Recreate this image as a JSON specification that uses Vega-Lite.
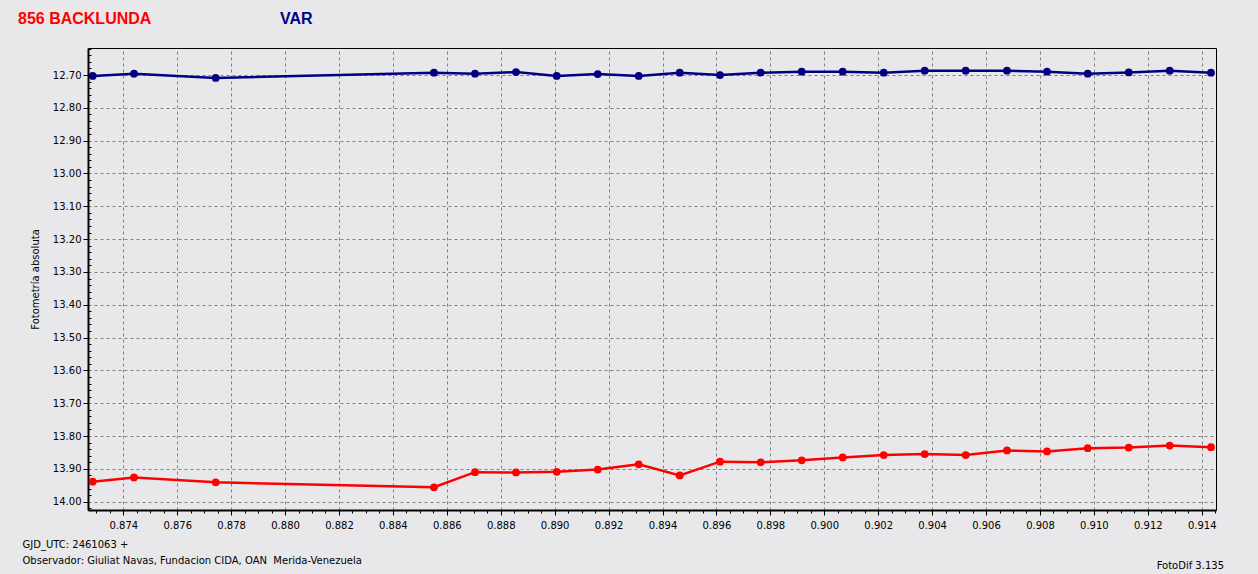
{
  "$schema": "https://vega.github.io/schema/vega-lite/v6.json",
  "width": 1128,
  "height": 462,
  "autosize": {"type": "none"},
  "padding": {"left": 88, "top": 48, "right": 42, "bottom": 64},
  "background": "#e8e8ea",
  "title": {
    "text": "FotoDif 3.135",
    "orient": "bottom",
    "anchor": "end",
    "frame": "group",
    "offset": -4,
    "dx": 8,
    "font": "DejaVu Sans",
    "fontSize": 10,
    "fontWeight": "normal",
    "color": "#000000"
  },
  "config": {
    "view": {"stroke": "#000000", "strokeWidth": 1, "fill": "#e8e8ea"},
    "axis": {
      "labelFont": "DejaVu Sans",
      "labelFontSize": 10,
      "labelColor": "#000000",
      "titleFont": "DejaVu Sans",
      "titleFontSize": 10,
      "titleFontWeight": "normal",
      "titleColor": "#000000",
      "domainColor": "#000000",
      "domainWidth": 2,
      "tickColor": "#000000",
      "gridColor": "#808080",
      "gridDash": [3, 3],
      "gridWidth": 1,
      "labelOverlap": false
    }
  },
  "data": {
    "values": [
      {"jd": 0.872865, "mag": 12.703, "serie": "VAR"},
      {"jd": 0.874397, "mag": 12.696, "serie": "VAR"},
      {"jd": 0.877427, "mag": 12.709, "serie": "VAR"},
      {"jd": 0.885524, "mag": 12.693, "serie": "VAR"},
      {"jd": 0.887045, "mag": 12.696, "serie": "VAR"},
      {"jd": 0.888566, "mag": 12.691, "serie": "VAR"},
      {"jd": 0.890076, "mag": 12.703, "serie": "VAR"},
      {"jd": 0.891597, "mag": 12.697, "serie": "VAR"},
      {"jd": 0.893117, "mag": 12.703, "serie": "VAR"},
      {"jd": 0.894638, "mag": 12.693, "serie": "VAR"},
      {"jd": 0.896133, "mag": 12.700, "serie": "VAR"},
      {"jd": 0.897642, "mag": 12.693, "serie": "VAR"},
      {"jd": 0.899163, "mag": 12.690, "serie": "VAR"},
      {"jd": 0.900684, "mag": 12.690, "serie": "VAR"},
      {"jd": 0.902205, "mag": 12.693, "serie": "VAR"},
      {"jd": 0.903725, "mag": 12.687, "serie": "VAR"},
      {"jd": 0.905246, "mag": 12.687, "serie": "VAR"},
      {"jd": 0.906778, "mag": 12.687, "serie": "VAR"},
      {"jd": 0.908262, "mag": 12.690, "serie": "VAR"},
      {"jd": 0.909772, "mag": 12.696, "serie": "VAR"},
      {"jd": 0.911293, "mag": 12.692, "serie": "VAR"},
      {"jd": 0.912813, "mag": 12.687, "serie": "VAR"},
      {"jd": 0.914345, "mag": 12.693, "serie": "VAR"},
      {"jd": 0.872865, "mag": 13.939, "serie": "856 BACKLUNDA"},
      {"jd": 0.874397, "mag": 13.926, "serie": "856 BACKLUNDA"},
      {"jd": 0.877427, "mag": 13.941, "serie": "856 BACKLUNDA"},
      {"jd": 0.885524, "mag": 13.956, "serie": "856 BACKLUNDA"},
      {"jd": 0.887045, "mag": 13.910, "serie": "856 BACKLUNDA"},
      {"jd": 0.888566, "mag": 13.911, "serie": "856 BACKLUNDA"},
      {"jd": 0.890076, "mag": 13.909, "serie": "856 BACKLUNDA"},
      {"jd": 0.891597, "mag": 13.902, "serie": "856 BACKLUNDA"},
      {"jd": 0.893117, "mag": 13.886, "serie": "856 BACKLUNDA"},
      {"jd": 0.894638, "mag": 13.920, "serie": "856 BACKLUNDA"},
      {"jd": 0.896133, "mag": 13.878, "serie": "856 BACKLUNDA"},
      {"jd": 0.897642, "mag": 13.880, "serie": "856 BACKLUNDA"},
      {"jd": 0.899163, "mag": 13.874, "serie": "856 BACKLUNDA"},
      {"jd": 0.900684, "mag": 13.865, "serie": "856 BACKLUNDA"},
      {"jd": 0.902205, "mag": 13.858, "serie": "856 BACKLUNDA"},
      {"jd": 0.903725, "mag": 13.855, "serie": "856 BACKLUNDA"},
      {"jd": 0.905246, "mag": 13.858, "serie": "856 BACKLUNDA"},
      {"jd": 0.906778, "mag": 13.844, "serie": "856 BACKLUNDA"},
      {"jd": 0.908262, "mag": 13.847, "serie": "856 BACKLUNDA"},
      {"jd": 0.909772, "mag": 13.837, "serie": "856 BACKLUNDA"},
      {"jd": 0.911293, "mag": 13.835, "serie": "856 BACKLUNDA"},
      {"jd": 0.912813, "mag": 13.829, "serie": "856 BACKLUNDA"},
      {"jd": 0.914345, "mag": 13.834, "serie": "856 BACKLUNDA"}
    ]
  },
  "encoding": {
    "x": {
      "field": "jd",
      "type": "quantitative",
      "scale": {"domain": [0.872691, 0.91453], "nice": false, "zero": false},
      "axis": {
        "title": ["GJD_UTC: 2461063 +", "Observador: Giuliat Navas, Fundacion CIDA, OAN\u00a0 Merida-Venezuela"],
        "titleAnchor": "start",
        "titleAlign": "left",
        "titleBaseline": "top",
        "titleX": -66,
        "titleY": 29,
        "titleLineHeight": 16,
        "values": [0.873, 0.8735, 0.874, 0.8745, 0.875, 0.8755, 0.876, 0.8765, 0.877, 0.8775, 0.878, 0.8785, 0.879, 0.8795, 0.88, 0.8805, 0.881, 0.8815, 0.882, 0.8825, 0.883, 0.8835, 0.884, 0.8845, 0.885, 0.8855, 0.886, 0.8865, 0.887, 0.8875, 0.888, 0.8885, 0.889, 0.8895, 0.89, 0.8905, 0.891, 0.8915, 0.892, 0.8925, 0.893, 0.8935, 0.894, 0.8945, 0.895, 0.8955, 0.896, 0.8965, 0.897, 0.8975, 0.898, 0.8985, 0.899, 0.8995, 0.9, 0.9005, 0.901, 0.9015, 0.902, 0.9025, 0.903, 0.9035, 0.904, 0.9045, 0.905, 0.9055, 0.906, 0.9065, 0.907, 0.9075, 0.908, 0.9085, 0.909, 0.9095, 0.91, 0.9105, 0.911, 0.9115, 0.912, 0.9125, 0.913, 0.9135, 0.914, 0.9145],
        "labelExpr": "round(datum.value*2000) % 4 == 0 ? format(datum.value, '.3f') : ''",
        "tickSize": {"condition": {"test": "round(datum.value*2000) % 4 == 0", "value": 5}, "value": 3},
        "gridOpacity": {"condition": {"test": "round(datum.value*2000) % 4 == 0", "value": 1}, "value": 0},
        "labelPadding": 5
      }
    },
    "y": {
      "field": "mag",
      "type": "quantitative",
      "scale": {"domain": [12.6177, 14.0253], "reverse": true, "nice": false, "zero": false},
      "axis": {
        "title": "Fotometría absoluta",
        "titlePadding": 12,
        "values": [12.62, 12.64, 12.66, 12.68, 12.7, 12.72, 12.74, 12.76, 12.78, 12.8, 12.82, 12.84, 12.86, 12.88, 12.9, 12.92, 12.94, 12.96, 12.98, 13.0, 13.02, 13.04, 13.06, 13.08, 13.1, 13.12, 13.14, 13.16, 13.18, 13.2, 13.22, 13.24, 13.26, 13.28, 13.3, 13.32, 13.34, 13.36, 13.38, 13.4, 13.42, 13.44, 13.46, 13.48, 13.5, 13.52, 13.54, 13.56, 13.58, 13.6, 13.62, 13.64, 13.66, 13.68, 13.7, 13.72, 13.74, 13.76, 13.78, 13.8, 13.82, 13.84, 13.86, 13.88, 13.9, 13.92, 13.94, 13.96, 13.98, 14.0, 14.02],
        "labelExpr": "round(datum.value*50) % 5 == 0 ? format(datum.value, '.2f') : ''",
        "tickSize": {"condition": {"test": "round(datum.value*50) % 5 == 0", "value": 5}, "value": -3},
        "gridOpacity": {"condition": {"test": "round(datum.value*50) % 5 == 0", "value": 1}, "value": 0},
        "labelPadding": 2
      }
    },
    "color": {
      "field": "serie",
      "type": "nominal",
      "scale": {"domain": ["856 BACKLUNDA", "VAR"], "range": ["#ff0000", "#000080"]},
      "legend": {
        "title": null,
        "orient": "none",
        "legendX": -86,
        "legendY": -37,
        "direction": "horizontal",
        "symbolSize": 0,
        "symbolOpacity": 0,
        "symbolStrokeWidth": 0,
        "labelOffset": 0,
        "columnPadding": 112,
        "labelFont": "Liberation Sans",
        "labelFontSize": 16,
        "labelFontWeight": "bold",
        "labelLimit": 300,
        "encode": {
          "labels": {
            "update": {
              "fill": {"signal": "datum.label === 'VAR' ? '#000080' : '#ff0000'"}
            }
          }
        }
      }
    }
  },
  "layer": [
    {"mark": {"type": "line", "strokeWidth": 2.5}},
    {"mark": {"type": "point", "shape": "circle", "filled": true, "opacity": 1, "size": 60}}
  ]
}
